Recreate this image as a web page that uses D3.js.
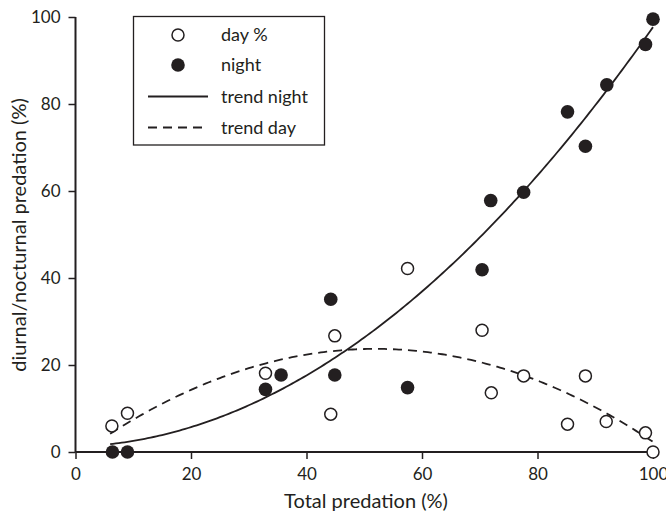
<!DOCTYPE html>
<html><head><meta charset="utf-8">
<script src="https://cdn.jsdelivr.net/npm/d3@7"></script>
<style>body{margin:0;background:#fff}svg{display:block}text{font-family:Lato,"Open Sans",sans-serif;fill:#231f20}</style>
</head><body><svg id="c" width="666" height="513"></svg>
<script>
const totalX = [6.4, 9.0, 32.9, 35.6, 44.2, 44.9, 57.5, 70.4, 71.9, 77.6, 85.2, 88.3, 92.0, 98.7, 100];
const nightY = [0, 0, 14.4, 17.7, 35.1, 17.7, 14.8, 41.9, 57.8, 59.7, 78.2, 70.3, 84.4, 93.7, 99.5];
const dayX   = [6.3, 9.0, 32.9, 44.9, 44.2, 57.5, 70.4, 72.0, 77.6, 85.2, 88.3, 91.9, 98.7, 100];
const dayY   = [6.0, 8.9, 18.1, 26.7, 8.7, 42.2, 28.0, 13.6, 17.5, 6.4, 17.5, 7.0, 4.4, 0];
// quadratic trend of night share (a + b·x + c·x²); day trend = total − night trend
const trendNightCoef = [1.23, 0.0394, 0.00925];
const trendRange = [6, 100];
const xTicks = [0, 20, 40, 60, 80, 100];
const yTicks = [0, 20, 40, 60, 80, 100];
const legendLabels = ["day %", "night", "trend night", "trend day"];

const fNight = v => trendNightCoef[0] + trendNightCoef[1]*v + trendNightCoef[2]*v*v;
const fDay = v => v - fNight(v);

const svg = d3.select("#c");
const x = d3.scaleLinear().domain([0,100]).range([75.5,653]);
const y = d3.scaleLinear().domain([0,100]).range([452,17]);

const gx = svg.append("g").attr("transform","translate(0,452)")
  .call(d3.axisBottom(x).tickValues(xTicks).tickSize(7).tickPadding(9));
const gy = svg.append("g").attr("transform","translate(75.5,0)")
  .call(d3.axisLeft(y).tickValues(yTicks).tickSize(7).tickPadding(8));
[gx,gy].forEach(g=>{
  g.select(".domain").attr("stroke","#231f20").attr("stroke-width",2);
  g.selectAll(".tick line").attr("stroke","#231f20").attr("stroke-width",1.5);
  g.selectAll(".tick text").attr("font-size",17).attr("font-family","Lato,'Open Sans',sans-serif").attr("fill","#231f20");
});
gx.select(".domain").attr("d","M75.5,0H653");
gy.select(".domain").attr("d","M0,17V452");

svg.append("text").attr("x",366).attr("y",508).attr("text-anchor","middle").attr("font-size",20).text("Total predation (%)");
svg.append("text").attr("transform","translate(26,235) rotate(-90)").attr("text-anchor","middle").attr("font-size",20).text("diurnal/nocturnal predation (%)");

const xs = d3.range(trendRange[0], trendRange[1]+0.01, 0.5);
const line = d3.line().x(d=>x(d[0])).y(d=>y(d[1]));
svg.append("path").datum(xs.map(v=>[v,fNight(v)])).attr("d",line).attr("fill","none").attr("stroke","#231f20").attr("stroke-width",1.8);
svg.append("path").datum(xs.map(v=>[v,fDay(v)])).attr("d",line).attr("fill","none").attr("stroke","#231f20").attr("stroke-width",1.8).attr("stroke-dasharray","9,6");

svg.append("g").selectAll("circle").data(totalX.map((v,i)=>[v,nightY[i]])).join("circle")
  .attr("cx",d=>x(d[0])).attr("cy",d=>y(d[1])).attr("r",6.8).attr("fill","#231f20");
svg.append("g").selectAll("circle").data(dayX.map((v,i)=>[v,dayY[i]])).join("circle")
  .attr("cx",d=>x(d[0])).attr("cy",d=>y(d[1])).attr("r",6).attr("fill","#fff").attr("stroke","#231f20").attr("stroke-width",1.5);

const lg = svg.append("g");
lg.append("rect").attr("x",133.5).attr("y",16.5).attr("width",191).attr("height",128.5).attr("fill","#fff").attr("stroke","#231f20").attr("stroke-width",1.3);
const rowsY=[35,65,96.5,127.5];
lg.append("circle").attr("cx",178).attr("cy",rowsY[0]).attr("r",6).attr("fill","#fff").attr("stroke","#231f20").attr("stroke-width",1.5);
lg.append("circle").attr("cx",178).attr("cy",rowsY[1]).attr("r",6.8).attr("fill","#231f20");
lg.append("line").attr("x1",148).attr("x2",208).attr("y1",rowsY[2]).attr("y2",rowsY[2]).attr("stroke","#231f20").attr("stroke-width",1.8);
lg.append("line").attr("x1",148).attr("x2",208).attr("y1",rowsY[3]).attr("y2",rowsY[3]).attr("stroke","#231f20").attr("stroke-width",1.8).attr("stroke-dasharray","9,6");
legendLabels.forEach((t,i)=>lg.append("text").attr("x",221).attr("y",rowsY[i]).attr("dy","0.35em").attr("font-size",18).text(t));
</script></body></html>
